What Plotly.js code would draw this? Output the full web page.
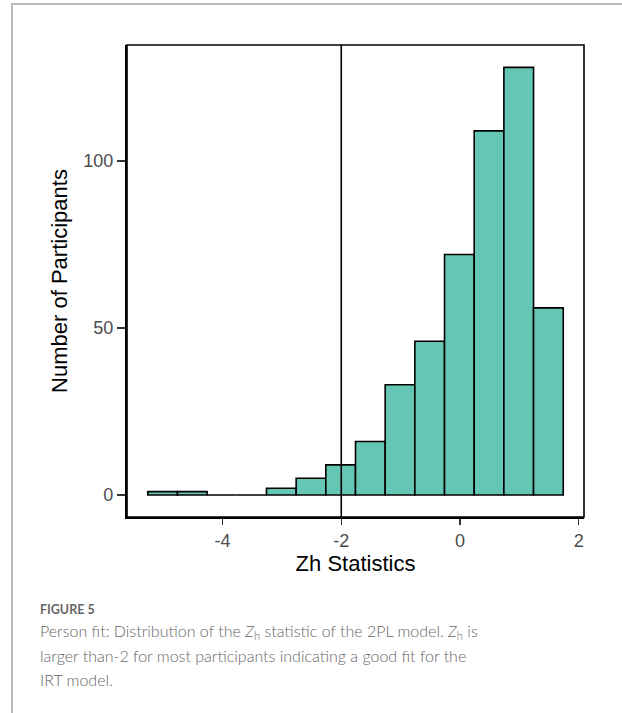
<!DOCTYPE html>
<html>
<head>
<meta charset="utf-8">
<script src="https://cdn.plot.ly/plotly-3.0.1.min.js"></script>
<style>
  html, body { margin: 0; padding: 0; background: #fff; }
  #wrap { position: relative; width: 622px; height: 713px; }
  #chart { position: absolute; left: 0; top: 0; width: 622px; height: 713px; }
  #frame { position: absolute; left: 11px; top: 3px; width: 611px; height: 710px;
           border-top: 2px solid #b8b8b8; border-left: 2px solid #b8b8b8; box-sizing: border-box;
           pointer-events: none; }
</style>
</head>
<body>
<div id="wrap">
  <div id="chart"></div>
  <div id="frame"></div>
</div>
<script>
// Histogram of Zh statistics (bin width 0.5)
const binCenters = [-5.01, -4.51, -4.01, -3.51, -3.01, -2.51, -2.01, -1.51, -1.01, -0.51, -0.01, 0.49, 0.99, 1.49];
const counts     = [1, 1, 0, 0, 2, 5, 9, 16, 33, 46, 72, 109, 128, 56];
const binWidth = 0.5;
const cutoff = -2;
const xTicks = [-4, -2, 0, 2];
const yTicks = [0, 50, 100];

const captionLabel = "FIGURE 5";
const captionLines = [
  "Person fit: Distribution of the <i>Z</i><sub>h</sub> statistic of the 2PL model. <i>Z</i><sub>h</sub> is",
  "larger than-2 for most participants indicating a good fit for the",
  "IRT model."
];

const W = 622, H = 713;
const L = 127, R = 584, T = 45, B = 517;
const pw = R - L, ph = B - T;
const px = x => (x - L) / pw;
const py = y => (B - y) / ph;

const trace = {
  type: 'bar',
  x: binCenters,
  y: counts,
  width: binCenters.map(() => binWidth),
  marker: { color: '#66c6b6', line: { color: '#000', width: 1.6 } },
  hoverinfo: 'x+y'
};

const annotations = [
  { text: captionLabel, xref: 'paper', yref: 'paper', x: px(38), y: py(609), xanchor: 'left', yanchor: 'middle',
    showarrow: false, font: { family: 'Lato', size: 12.5, color: '#666', weight: 700 } }
];
const lineY = [631, 655, 679];
captionLines.forEach((t, i) => {
  annotations.push({ text: t, xref: 'paper', yref: 'paper', x: px(38), y: py(lineY[i]), xanchor: 'left', yanchor: 'middle',
    showarrow: false, font: { family: 'Lato', size: 16, color: '#666', weight: 300 } });
});

const layout = {
  width: W, height: H,
  margin: { l: L, r: W - R, t: T, b: H - B, pad: 0 },
  paper_bgcolor: 'rgba(0,0,0,0)',
  plot_bgcolor: '#fff',
  showlegend: false,
  bargap: 0,
  font: { family: 'Liberation Sans, Arial, sans-serif' },
  xaxis: {
    range: [-5.61, 2.09], tickvals: xTicks, ticktext: xTicks.map(String),
    showgrid: false, zeroline: false,
    showline: true, linecolor: '#000', linewidth: 2.2,
    ticks: 'outside', ticklen: 6, tickwidth: 1.2, tickcolor: '#333',
    tickfont: { size: 18, color: '#4d4d4d' },
    title: { text: 'Zh Statistics', font: { size: 22, color: '#000' }, standoff: 6 }
  },
  yaxis: {
    range: [-6.6, 134.7], tickvals: yTicks, ticktext: yTicks.map(String),
    showgrid: false, zeroline: false,
    showline: true, linecolor: '#000', linewidth: 2.2,
    ticks: 'outside', ticklen: 8, tickwidth: 1.2, tickcolor: '#333',
    tickfont: { size: 18, color: '#4d4d4d' },
    title: { text: 'Number of Participants', font: { size: 22, color: '#000' }, standoff: 10 }
  },
  shapes: [
    { type: 'rect', xref: 'paper', yref: 'paper', x0: 0, x1: 1, y0: 0, y1: 1, line: { color: '#000', width: 1.6 } },
    { type: 'line', xref: 'x', yref: 'paper', x0: cutoff, x1: cutoff, y0: 0, y1: 1, line: { color: '#000', width: 1.6 }, layer: 'above' }
  ],
  annotations: annotations
};

Plotly.newPlot('chart', [trace], layout, { displayModeBar: false, staticPlot: true });
</script>
</body>
</html>
